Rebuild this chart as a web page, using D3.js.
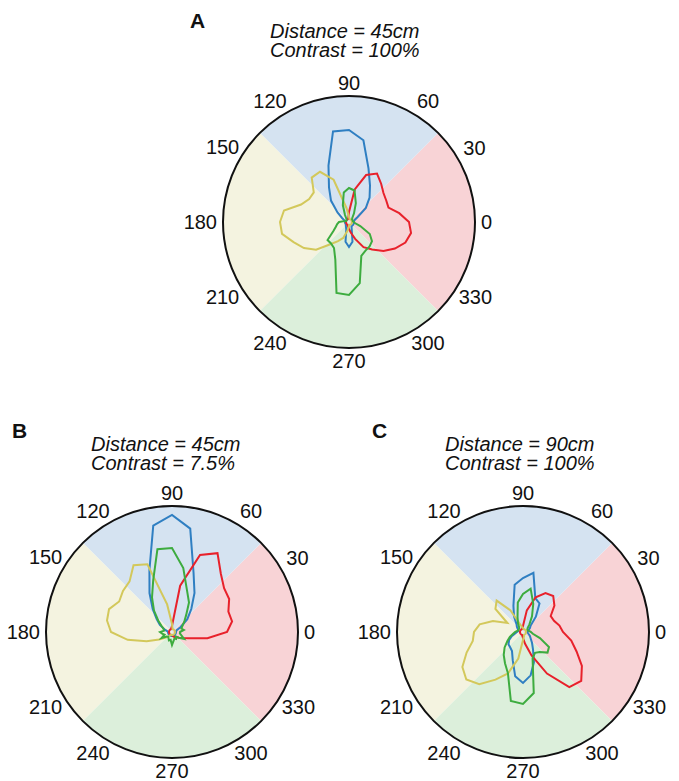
<!DOCTYPE html>
<html>
<head>
<meta charset="utf-8">
<script src="https://cdn.jsdelivr.net/npm/d3@7"></script>
<style>
  body { margin: 0; background: #fff; }
  text { font-family: "Liberation Sans", Arial, Helvetica, sans-serif; fill: #111; }
</style>
</head>
<body>
<div id="chart"></div>
<script>
// direction of motion (deg), sampled every 10 deg
const angles = d3.range(0, 360, 10)
const tickAngles = d3.range(0, 360, 30)
const rMax = 126

// A: distance 45cm, contrast 100%
const aBlue = [5, 5, 6, 10, 22, 32, 42, 57, 83, 92, 92, 60, 40, 28, 15, 8, 5, 4, 4, 4, 4, 4, 4, 5, 6, 8, 20, 25, 20, 8, 5, 5, 5, 5, 5, 5]
const aRed = [60, 51, 42, 43, 45, 50, 56, 50, 33, 10, 4, 3, 3, 3, 3, 3, 3, 3, 3, 3, 3, 3, 3, 3, 3, 4, 5, 7, 11, 18, 29, 36, 45, 53, 60, 63]
const aYellow = [3, 3, 3, 3, 3, 3, 3, 3, 3, 5, 14, 45, 58, 58, 46, 46, 51, 66, 69, 68, 59, 52, 43, 29, 22, 17, 9, 4, 3, 3, 3, 3, 3, 3, 3, 3]
const aGreen = [5, 4, 4, 4, 4, 5, 10, 20, 32, 34, 30, 18, 8, 4, 3, 3, 3, 5, 10, 12, 14, 18, 28, 28, 30, 40, 72, 73, 62, 36, 33, 32, 30, 24, 12, 6]

// B: distance 45cm, contrast 7.5%
const bBlue = [4, 4, 5, 10, 20, 30, 45, 63, 105, 117, 108, 66, 45, 30, 20, 14, 8, 5, 4, 4, 4, 4, 4, 4, 4, 4, 4, 4, 4, 4, 4, 4, 4, 4, 4, 4]
const bRed = [55, 61, 60, 66, 68, 76, 91, 82, 47, 6, 4, 3, 3, 3, 3, 3, 3, 3, 3, 3, 3, 3, 3, 3, 3, 3, 3, 3, 4, 5, 6, 7, 9, 12, 18, 36]
const bYellow = [3, 3, 3, 3, 3, 3, 3, 3, 3, 8, 28, 72, 77, 66, 64, 61, 67, 66, 61, 45, 27, 15, 9, 6, 4, 3, 3, 3, 3, 3, 3, 3, 3, 3, 3, 3]
const bGreen = [8, 12, 10, 12, 16, 22, 34, 44, 65, 84, 84, 55, 40, 28, 18, 12, 9, 8, 12, 10, 8, 12, 7, 6, 7, 9, 8, 13, 9, 7, 8, 6, 9, 14, 10, 8]

// C: distance 90cm, contrast 100%
const cBlue = [4, 5, 6, 8, 10, 20, 33, 36, 60, 54, 48, 28, 18, 10, 8, 6, 5, 5, 6, 8, 12, 16, 19, 20, 22, 30, 45, 51, 44, 32, 20, 14, 10, 8, 6, 5]
const cRed = [40, 37, 33, 32, 41, 47, 45, 37, 22, 6, 4, 3, 3, 3, 3, 3, 3, 3, 3, 3, 3, 3, 3, 3, 3, 3, 4, 6, 12, 25, 48, 72, 76, 68, 57, 49]
const cYellow = [3, 3, 3, 3, 3, 3, 3, 3, 3, 4, 5, 8, 25, 41, 36, 18, 32, 44, 49, 51, 60, 70, 74, 68, 55, 44, 27, 8, 5, 3, 3, 3, 3, 3, 3, 3]
const cGreen = [8, 6, 5, 5, 6, 10, 18, 30, 44, 38, 30, 16, 10, 6, 5, 5, 5, 6, 8, 10, 14, 18, 24, 30, 36, 44, 70, 72, 62, 28, 24, 26, 32, 30, 18, 10]

const colors = { blue: '#2f7fc2', red: '#e8212b', yellow: '#d3c85b', green: '#3dac3f' }
const fills = { blue: '#d5e3f1', red: '#f8d3d6', yellow: '#f4f3e0', green: '#dcefdb' }

// sectors in math degrees (counter-clockwise from 0 = right)
const sectors = [
  { name: 'red', from: -45, to: 45 },
  { name: 'blue', from: 45, to: 135 },
  { name: 'yellow', from: 135, to: 225 },
  { name: 'green', from: 225, to: 315 },
]

const panels = [
  { letter: 'A', lx: 190, ly: 28, tx: 270, ty: 38, lines: ['Distance = 45cm', 'Contrast = 100%'], cx: 349, cy: 222,
    series: { blue: aBlue, red: aRed, yellow: aYellow, green: aGreen } },
  { letter: 'B', lx: 12, ly: 438, tx: 91, ty: 451, lines: ['Distance = 45cm', 'Contrast = 7.5%'], cx: 172, cy: 632,
    series: { blue: bBlue, red: bRed, yellow: bYellow, green: bGreen } },
  { letter: 'C', lx: 372, ly: 438, tx: 445, ty: 451, lines: ['Distance = 90cm', 'Contrast = 100%'], cx: 523, cy: 632,
    series: { blue: cBlue, red: cRed, yellow: cYellow, green: cGreen } },
]

const width = 679
const height = 781
const R = 126
const rad = d => ((90 - d) * Math.PI) / 180 // math degrees -> d3 radial angle

const svg = d3
  .select('#chart')
  .append('svg')
  .attr('width', width)
  .attr('height', height)

const r = d3.scaleLinear().domain([0, rMax]).range([0, R])

const arc = d3.arc().innerRadius(0).outerRadius(R)

const line = d3
  .lineRadial()
  .angle(d => rad(d.a))
  .radius(d => r(d.v))
  .curve(d3.curveLinearClosed)

panels.forEach(p => {
  // panel letter and titles
  svg
    .append('text')
    .attr('x', p.lx)
    .attr('y', p.ly)
    .attr('font-size', 21)
    .attr('font-weight', 'bold')
    .text(p.letter)

  const title = svg
    .append('text')
    .attr('x', p.tx)
    .attr('y', p.ty)
    .attr('font-size', 20)
    .attr('font-style', 'italic')
  p.lines.forEach((t, i) => {
    title
      .append('tspan')
      .attr('x', p.tx)
      .attr('dy', i === 0 ? 0 : 19)
      .text(t)
  })

  const g = svg.append('g').attr('transform', `translate(${p.cx},${p.cy})`)

  // coloured quadrants
  g.selectAll('.sector')
    .data(sectors)
    .enter()
    .append('path')
    .attr('class', 'sector')
    .attr('d', d => arc({ startAngle: rad(d.to), endAngle: rad(d.from) }))
    .attr('fill', d => fills[d.name])

  // tuning curves
  ;['blue', 'red', 'yellow', 'green'].forEach(k => {
    const pts = angles.map((a, i) => ({ a, v: p.series[k][i] }))
    g.append('path')
      .attr('d', line(pts))
      .attr('fill', 'none')
      .attr('stroke', colors[k])
      .attr('stroke-width', 2)
      .attr('stroke-linejoin', 'miter')
  })

  g.append('circle')
    .attr('r', R)
    .attr('fill', 'none')
    .attr('stroke', '#111')
    .attr('stroke-width', 2)

  // angle labels, pushed out so the text box clears the circle
  tickAngles.forEach(a => {
    const t = g
      .append('text')
      .attr('font-size', 20)
      .attr('text-anchor', 'middle')
      .text(a)
    const hw = t.node().getComputedTextLength() / 2
    const hh = 7
    const c = Math.cos((a * Math.PI) / 180)
    const s = Math.sin((a * Math.PI) / 180)
    const edge = Math.min(
      Math.abs(c) > 1e-6 ? hw / Math.abs(c) : Infinity,
      Math.abs(s) > 1e-6 ? hh / Math.abs(s) : Infinity,
    )
    const d = R + 6 + edge
    // labels near the top and bottom sit a little wider, as in the source
    const dx = Math.abs(c) > 0.2 && Math.abs(c) < 0.8 ? Math.sign(c) * 9 : 0
    const dy = Math.abs(s) > 0.2 && Math.abs(s) < 0.8 ? -Math.sign(s) * 2 : 0
    t.attr('x', d * c + dx).attr('y', -d * s + hh + dy)
  })
})
</script>
</body>
</html>
